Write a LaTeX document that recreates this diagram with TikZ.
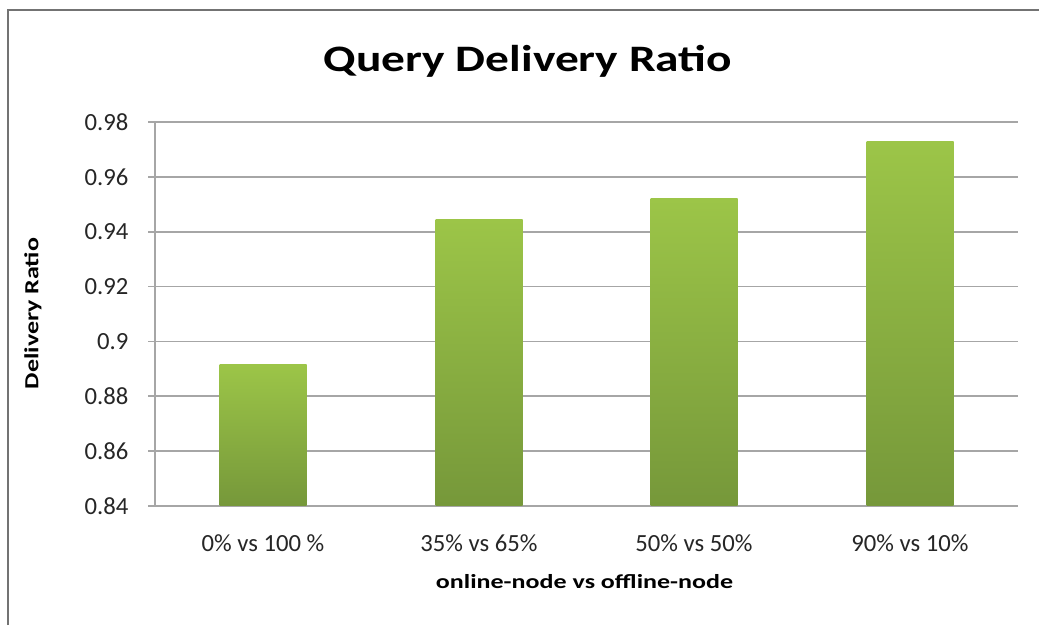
\documentclass[tikz,border=0pt]{standalone}
\usepackage{graphicx}
\usepackage{fontspec}
\setmainfont{Carlito}
\begin{document}
\begin{tikzpicture}[x=0.75pt,y=-0.75pt,
  grid/.style={draw=black!35,line width=1.2pt},
  frame/.style={draw=black!55,line width=1.5pt},
  bar/.style={top color=green1,bottom color=green2,draw=none},
  tick/.style={font=\fontsize{18.5}{22}\selectfont,anchor=east,text=black!85},
  cat/.style={font=\fontsize{18.5}{22}\selectfont,text=black!85},
  axlab/.style={font=\fontsize{15}{18}\selectfont\bfseries}]
\definecolor{green1}{HTML}{9CC548}
\definecolor{green2}{HTML}{76983A}
\useasboundingbox (0,0) rectangle (1039,625);
\fill[white] (0,0) rectangle (1039,625);
% frame
\coordinate (f1) at (8,625);
\coordinate (f2) at (8,10);
\coordinate (f3) at (1039,10);
\draw[frame] (f1) -- (f2) -- (f3);
% title
\node[font=\fontsize{28}{33}\selectfont\bfseries] (title) at (528,61) {\scalebox{1.27}[1]{Query Delivery Ratio}};
% grid and ticks
\foreach \v/\l [count=\i from 0] in {0.84/0.84,0.86/0.86,0.88/0.88,0.9/0.9,0.92/0.92,0.94/0.94,0.96/0.96,0.98/0.98}{
  \pgfmathsetmacro{\yy}{506-\i*54.86}
  \coordinate (gl\i) at (148,\yy);
  \coordinate (gr\i) at (1018,\yy);
  \draw[grid] (gl\i) -- (gr\i);
  \node[tick] (t\i) at (133,\yy) {\l};
}
\coordinate (ya) at (155,122);
\coordinate (yb) at (155,506);
\draw[grid] (ya) -- (yb);
% bars
\foreach \c/\v/\lab [count=\j] in {263/0.8915/{0\% vs 100 \%},479/0.9445/{35\% vs 65\%},694/0.952/{50\% vs 50\%},910/0.9727/{90\% vs 10\%}}{
  \pgfmathsetmacro{\top}{506-(\v-0.84)/0.02*54.86}
  \shade[bar] (\c-43.5,\top) rectangle (\c+43.5,505);
  \node[cat] (c\j) at (\c,543) {\lab};
}
% axis labels
\node[axlab] (xl) at (584.5,582) {\scalebox{1.3}[1]{online-node vs offline-node}};
\node[axlab,rotate=90] (yl) at (33,313.5) {\scalebox{1.3}[1]{Delivery Ratio}};
\end{tikzpicture}
\end{document}
